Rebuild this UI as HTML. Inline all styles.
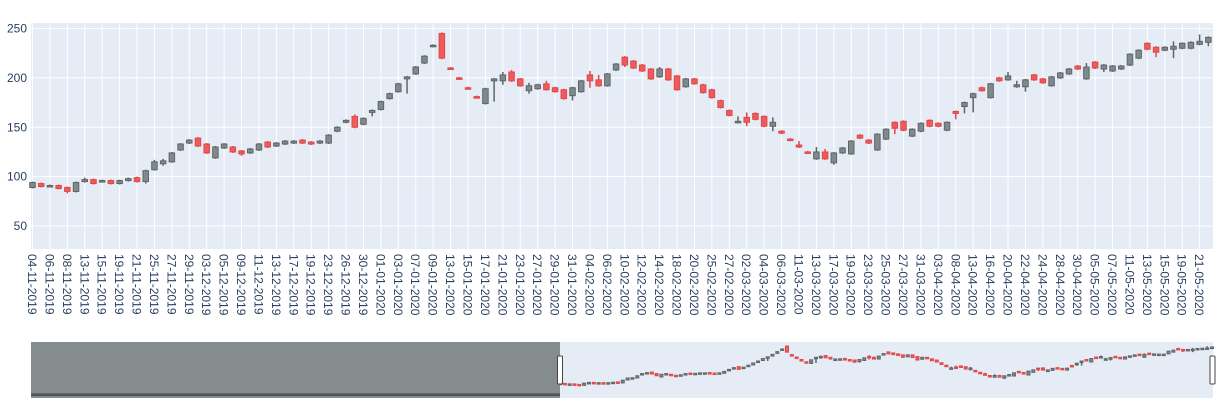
<!DOCTYPE html>
<html><head><meta charset="utf-8"><style>
html,body{margin:0;padding:0;background:#fff;}
svg{display:block;font-family:"Liberation Sans",Arial,sans-serif;}
</style></head><body>
<svg id="chart" width="1223" height="409" viewBox="0 0 1223 409">
<rect x="31" y="23" width="1182" height="226" fill="#e5ecf6"/>
<g id="grid"></g>
<g id="ylabels"></g>
<g id="xlabels"></g>
<g id="candles"></g>
<g id="slider"></g>
</svg>
<script>
const labelDates = ["04-11-2019","06-11-2019","08-11-2019","13-11-2019","15-11-2019","19-11-2019","21-11-2019","25-11-2019","27-11-2019","29-11-2019",
"03-12-2019","05-12-2019","09-12-2019","11-12-2019","13-12-2019","17-12-2019","19-12-2019","23-12-2019","26-12-2019","30-12-2019",
"01-01-2020","03-01-2020","07-01-2020","09-01-2020","13-01-2020","15-01-2020","17-01-2020","21-01-2020","23-01-2020","27-01-2020","29-01-2020","31-01-2020",
"04-02-2020","06-02-2020","10-02-2020","12-02-2020","14-02-2020","18-02-2020","20-02-2020","25-02-2020","27-02-2020",
"02-03-2020","04-03-2020","06-03-2020","11-03-2020","13-03-2020","17-03-2020","19-03-2020","23-03-2020","25-03-2020","27-03-2020","31-03-2020",
"03-04-2020","08-04-2020","13-04-2020","16-04-2020","20-04-2020","22-04-2020","24-04-2020","28-04-2020","30-04-2020",
"05-05-2020","07-05-2020","11-05-2020","13-05-2020","15-05-2020","19-05-2020","21-05-2020"];
const openVals = [89,93,90,91,89,85,95,97,95,96,93,96,99,95,107,113,115,127,134,139,133,119,129,130,126,124,127,135,131,133,134,137,135,134,134,146,155,161,153,165,168,179,186,199,204,
215,232,245,210,200,190,181,174,197,197,206,199,187,189,194,190,188,182,186,203,198,192,208,221,217,213,209,201,209,202,191,199,193,188,177,167,155,160,164,161,151,146,138,132,125,118,
125,114,124,123,142,137,127,138,155,156,141,146,157,154,147,166,171,180,190,180,200,198,191,191,203,199,192,200,204,212,199,216,209,207,209,213,220,235,231,228,229,230,230,234,236];
const closeVals = [94,90,91,88,85,94,97,93,96,93,96,98,95,106,115,116,124,133,137,131,124,130,133,125,123,128,133,130,134,136,136,134,133,136,142,150,157,150,159,167,176,184,194,201,211,
222,233,220,209,199,189,180,189,199,203,197,192,192,193,188,186,179,190,197,197,192,204,214,213,210,207,199,209,198,188,199,194,185,180,170,162,156,155,158,151,155,144,137,130,124,125,
118,124,129,136,139,134,143,148,149,147,148,154,151,151,155,164,175,184,187,194,197,202,193,198,198,195,201,205,209,209,211,210,213,212,212,224,228,229,226,231,232,235,236,237,241];
const highVals = [95,94,92,92,90,95,99,98,97,97,97,99,100,107,117,118,125,134,138,140,134,131,134,131,127,129,134,136,135,137,137,138,136,137,143,151,158,163,160,168,177,185,195,202,212,
223,234,246,211,201,191,182,190,200,206,208,200,195,194,197,191,189,191,198,207,203,205,215,222,218,214,210,211,210,203,200,200,194,189,178,168,161,165,165,162,160,147,139,136,126,130,
128,125,130,137,143,138,144,149,156,157,149,155,158,155,156,167,176,185,191,195,201,206,197,199,204,200,202,206,210,213,215,217,214,213,213,225,229,236,232,232,237,236,237,244,242];
const lowVals = [88,89,89,87,83,84,94,92,94,92,92,95,94,93,106,111,114,126,133,130,123,118,128,124,121,123,126,129,130,132,133,133,132,133,133,145,154,149,152,161,167,178,185,184,203,
214,231,219,208,198,188,179,173,176,193,196,191,184,188,187,185,178,177,185,190,191,191,207,211,209,206,198,200,197,187,190,193,184,179,169,161,154,151,157,150,146,143,136,129,123,117,
117,112,123,122,138,133,126,137,143,146,140,145,150,150,146,158,164,165,186,179,196,197,190,186,197,194,191,199,203,208,198,209,206,206,208,212,219,228,221,227,220,229,229,233,232];
const yTicks = [50,100,150,200,250];

const NS="http://www.w3.org/2000/svg";
function mk(tag, attrs, parent){const e=document.createElementNS(NS,tag);for(const k in attrs)e.setAttribute(k,attrs[k]);parent.appendChild(e);return e;}
const N = openVals.length;
// categories: labelled dates on even indices, fill odd ones with next-day guess
const categories = [];
for(let k=0;k<labelDates.length;k++){
  categories.push(labelDates[k]);
  const p=labelDates[k].split('-');const d=String(+p[0]+1).padStart(2,'0');
  categories.push(d+'-'+p[1]+'-'+p[2]);
}
const X0=32.5, DX=8.71;
function xs(i){return X0+DX*i;}
const Y250=28.5, PPU=0.9875;
function ys(v){return Y250+(250-v)*PPU;}

const grid=document.getElementById('grid');
yTicks.forEach(t=>{
  const l=mk('line',{x1:31,x2:1213,y1:ys(t),y2:ys(t),stroke:'#fff','stroke-width':1},grid);
  
  
  const tx=mk('text',{x:27,y:ys(t)+4,'text-anchor':'end','font-size':12,fill:'#2a3f5f'},document.getElementById('ylabels'));
  tx.textContent=t;
  
  
});
const xl=document.getElementById('xlabels');
for(let i=0;i<N;i+=2){
  const l=mk('line',{x1:xs(i),x2:xs(i),y1:23,y2:249,stroke:'#fff','stroke-width':1},grid);
  
  
  const t=mk('text',{x:0,y:0,transform:`translate(${xs(i)-0.5},254) rotate(90)`,'dominant-baseline':'central','font-size':12,fill:'#2a3f5f'},xl);
  t.textContent=categories[i];
  
  
}
const cg=document.getElementById('candles');
const INC_F='#7f8a8c', INC_L='#5f6566', DEC_F='#ef5a5a', DEC_L='#e04848';
function candle(parent,x,yo,yc,yh,yl,w,name){
  const up=yc<=yo;
  const g=mk('g',{},parent);
  
  
  mk('line',{x1:x,x2:x,y1:yh,y2:yl,stroke:up?INC_L:DEC_L,'stroke-width':1.5},g);
  const top=Math.min(yo,yc),h=Math.max(Math.abs(yo-yc),1.5);
  mk('rect',{x:x-w/2,y:top,width:w,height:h,fill:up?INC_F:DEC_F,stroke:up?INC_L:DEC_L,'stroke-width':1},g);
}
for(let i=0;i<N;i++){
  candle(cg,xs(i),ys(openVals[i]),ys(closeVals[i]),ys(highVals[i]),ys(lowVals[i]),5.5,'candle-'+categories[i]);
}
// range slider
const sl=document.getElementById('slider');
const bg=mk('rect',{x:31,y:342,width:1182,height:56,fill:'#e5ecf6'},sl);


function sx(i){return 560+(i/(N-1))*652;}
function sy(v){return 346+(245-v)*0.246;}
for(let i=0;i<N;i++){
  candle(sl,sx(i),sy(openVals[i]),sy(closeVals[i]),sy(highVals[i]),sy(lowVals[i]),3,'slider-candle');
}
const flat=mk('rect',{x:31,y:393,width:529,height:3,fill:'#555c5e'},sl);


const mask=mk('rect',{x:31,y:342,width:529,height:56,fill:'#7f8787','fill-opacity':0.95},sl);


const flat2=mk('rect',{x:31,y:393.5,width:529,height:2.5,fill:'#4f5556'},sl);


const h1=mk('rect',{x:557.5,y:356,width:5,height:28,rx:1,fill:'#fff',stroke:'#444','stroke-width':1},sl);


const h2=mk('rect',{x:1210,y:356,width:5,height:28,rx:1,fill:'#fff',stroke:'#444','stroke-width':1},sl);


</script>
</body></html>
